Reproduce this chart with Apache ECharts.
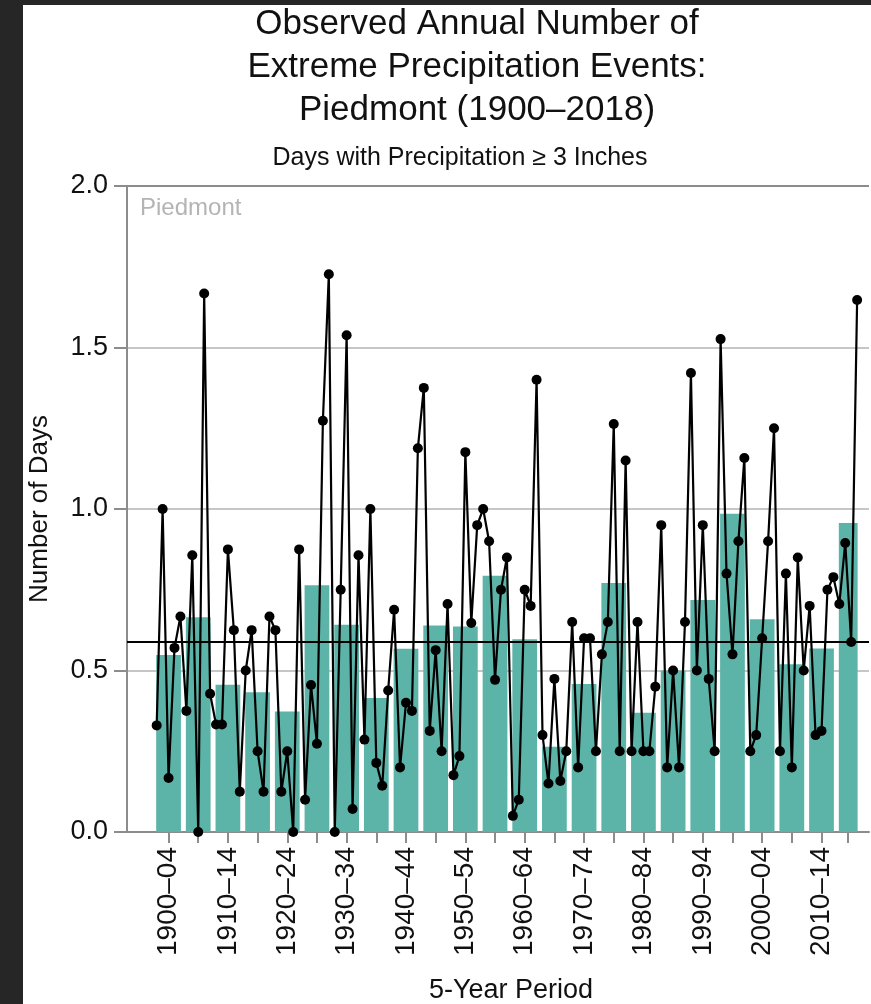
<!DOCTYPE html>
<html>
<head>
<meta charset="utf-8">
<script src="https://cdn.jsdelivr.net/npm/echarts@6/dist/echarts.min.js"></script>
<style>
html, body { margin: 0; padding: 0; background: #262626; }
#paper { position: absolute; left: 23px; top: 5px; width: 848px; height: 999px; background: #fff; }
#chart { position: absolute; left: 0; top: 0; width: 871px; height: 1004px; }
</style>
</head>
<body>
<div id="paper"></div>
<div id="chart"></div>
<script>
// annual values, 1900..2018
const firstYear = 1900;
const annualDays = [
    0.33, 1.0, 0.167, 0.57, 0.667, 0.375, 0.857, 0, 1.667, 0.428,
    0.333, 0.333, 0.875, 0.625, 0.125, 0.5, 0.625, 0.25, 0.125, 0.667,
    0.625, 0.125, 0.25, 0, 0.875, 0.1, 0.455, 0.273, 1.273, 1.727,
    0, 0.75, 1.538, 0.071, 0.857, 0.286, 1.0, 0.214, 0.143, 0.438,
    0.688, 0.2, 0.4, 0.375, 1.188, 1.375, 0.313, 0.563, 0.25, 0.706,
    0.176, 0.235, 1.176, 0.647, 0.95, 1.0, 0.9, 0.471, 0.75, 0.85,
    0.05, 0.1, 0.75, 0.7, 1.4, 0.3, 0.15, 0.474, 0.158, 0.25,
    0.65, 0.2, 0.6, 0.6, 0.25, 0.55, 0.65, 1.263, 0.25, 1.15,
    0.25, 0.65, 0.25, 0.25, 0.45, 0.95, 0.2, 0.5, 0.2, 0.65,
    1.421, 0.5, 0.95, 0.474, 0.25, 1.526, 0.8, 0.55, 0.9, 1.158,
    0.25, 0.3, 0.6, 0.9, 1.25, 0.25, 0.8, 0.2, 0.85, 0.5,
    0.7, 0.3, 0.313, 0.75, 0.789, 0.706, 0.895, 0.588, 1.647
];

// 5-year period bars
const periodStart = [1900, 1905, 1910, 1915, 1920, 1925, 1930, 1935, 1940, 1945, 1950, 1955,
    1960, 1965, 1970, 1975, 1980, 1985, 1990, 1995, 2000, 2005, 2010, 2015];
const periodEnd = [1904, 1909, 1914, 1919, 1924, 1929, 1934, 1939, 1944, 1949, 1954, 1959,
    1964, 1969, 1974, 1979, 1984, 1989, 1994, 1999, 2004, 2009, 2014, 2018];
const periodLabels = ['1900–04', '1905–09', '1910–14', '1915–19', '1920–24', '1925–29',
    '1930–34', '1935–39', '1940–44', '1945–49', '1950–54', '1955–59', '1960–64', '1965–69',
    '1970–74', '1975–79', '1980–84', '1985–89', '1990–94', '1995–99', '2000–04', '2005–09',
    '2010–14', '2015–18'];
const periodDays = [0.548, 0.665, 0.456, 0.433, 0.373, 0.764, 0.642, 0.415, 0.567, 0.639,
    0.636, 0.793, 0.597, 0.264, 0.458, 0.771, 0.369, 0.5, 0.718, 0.985, 0.659, 0.519, 0.568, 0.957];

const averageDays = 0.594;
const yTicks = [0, 0.5, 1.0, 1.5, 2.0];

const barColor = '#5cb4a9';
const axisGray = '#8c8c8c';
const fontName = 'Liberation Sans';

let chart = echarts.init(document.getElementById('chart'));

let periodMid = periodStart.map((s, i) => (s + periodEnd[i]) / 2);
let labelMid = periodMid.filter((m, i) => i % 2 === 0);
let lineData = annualDays.map((v, i) => [firstYear + i, v]);
let barData = periodStart.map((s, i) => [s, periodEnd[i], periodDays[i]]);

function textEl(text, x, y, size, color, align) {
    return {
        type: 'text', x: x, y: y,
        style: {
            text: text, textAlign: align || 'center', textVerticalAlign: 'middle',
            fontSize: size, fontFamily: fontName, fill: color || '#111'
        }
    };
}

let option = {
    animation: false,
    grid: { left: 127, right: 2, top: 186, bottom: 172, show: false },
    xAxis: {
        type: 'value',
        min: 1895,
        max: 2020,
        splitLine: { show: false },
        axisLine: { lineStyle: { color: axisGray, width: 2 } },
        axisTick: {
            customValues: periodMid,
            length: 11,
            lineStyle: { color: axisGray, width: 2 }
        },
        axisLabel: {
            customValues: labelMid,
            rotate: 90,
            margin: 15,
            fontSize: 28,
            fontFamily: fontName,
            color: '#111',
            formatter: function (v) {
                let i = periodMid.indexOf(v);
                return i >= 0 ? periodLabels[i] : '';
            }
        }
    },
    yAxis: {
        type: 'value',
        min: yTicks[0],
        max: yTicks[yTicks.length - 1],
        interval: 0.5,
        name: 'Number of Days',
        nameLocation: 'middle',
        nameRotate: 90,
        nameGap: 74,
        nameTextStyle: { fontSize: 26, fontFamily: fontName, color: '#111' },
        axisLine: { show: true, lineStyle: { color: axisGray, width: 2 } },
        axisTick: { show: true, length: 13, lineStyle: { color: axisGray, width: 2 } },
        axisLabel: {
            margin: 19,
            fontSize: 27,
            fontFamily: fontName,
            color: '#111',
            formatter: v => v.toFixed(1)
        },
        splitLine: {
            lineStyle: {
                color: [axisGray, '#c6c6c6', '#c6c6c6', '#c6c6c6', axisGray],
                width: 2
            }
        }
    },
    graphic: [
        textEl('Observed Annual Number of', 477, 24, 35),
        textEl('Extreme Precipitation Events:', 477, 67, 35),
        textEl('Piedmont (1900–2018)', 477, 110, 35),
        textEl('Days with Precipitation ≥ 3 Inches', 460, 158, 25),
        textEl('Piedmont', 140, 208, 24, '#b4b4b4', 'left'),
        textEl('5-Year Period', 511, 991, 27)
    ],
    series: [
        {
            type: 'custom',
            data: barData,
            encode: { x: [0, 1], y: 2 },
            z: 2,
            renderItem: function (params, api) {
                let p0 = api.coord([api.value(0), 0]);
                let p1 = api.coord([api.value(1), api.value(2)]);
                return {
                    type: 'rect',
                    shape: { x: p0[0] - 0.5, y: p1[1], width: p1[0] - p0[0] + 1, height: p0[1] - p1[1] },
                    style: { fill: barColor }
                };
            }
        },
        {
            type: 'line',
            data: lineData,
            z: 4,
            symbol: 'circle',
            symbolSize: 10,
            lineStyle: { color: '#000', width: 2.2 },
            itemStyle: { color: '#000' },
            markLine: {
                silent: true,
                symbol: 'none',
                label: { show: false },
                lineStyle: { color: '#000', width: 2, type: 'solid' },
                data: [{ yAxis: averageDays }]
            }
        }
    ]
};
chart.setOption(option);
</script>
</body>
</html>
